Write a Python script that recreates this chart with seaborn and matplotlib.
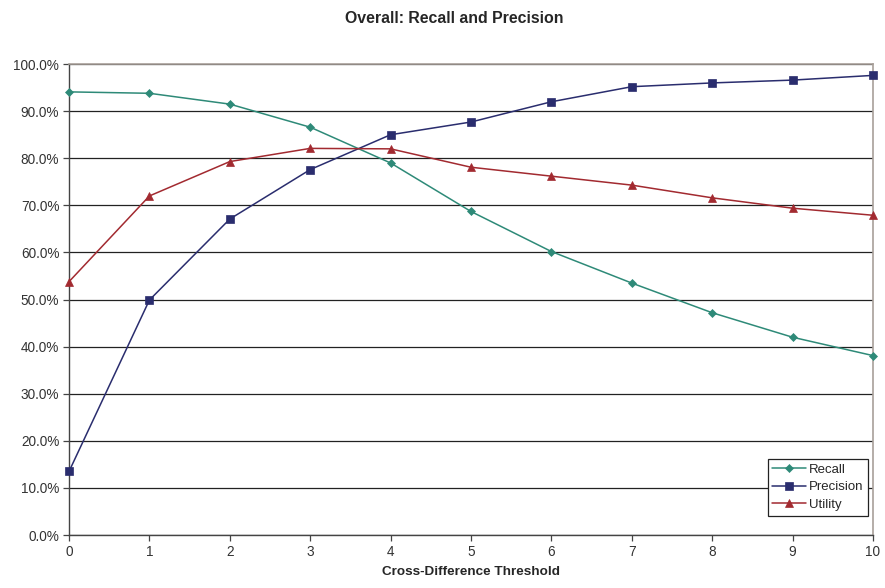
import matplotlib
matplotlib.use("Agg")
import matplotlib.pyplot as plt
from matplotlib.ticker import FuncFormatter, MultipleLocator
import seaborn as sns
import pandas as pd

thresholds = [0, 1, 2, 3, 4, 5, 6, 7, 8, 9, 10]
recall = [94.1, 93.8, 91.5, 86.6, 79.0, 68.7, 60.2, 53.5, 47.2, 42.0, 38.1]
precision = [13.5, 49.9, 67.1, 77.6, 85.0, 87.7, 92.0, 95.2, 96.0, 96.6, 97.6]
utility = [53.8, 72.0, 79.3, 82.1, 82.0, 78.1, 76.2, 74.3, 71.6, 69.4, 67.9]

series_names = ["Recall", "Precision", "Utility"]
colors = {"Recall": "#2E8A78", "Precision": "#2A2D6E", "Utility": "#A22A30"}
markers = {"Recall": "D", "Precision": "s", "Utility": "^"}
marker_sizes = {"Recall": 4.2, "Precision": 6.0, "Utility": 6.0}

df = pd.DataFrame({
    "threshold": thresholds * 3,
    "value": recall + precision + utility,
    "series": [s for s in series_names for _ in thresholds],
})

sns.set_style("white")
plt.rcParams["font.family"] = ["Liberation Sans", "DejaVu Sans"]

fig = plt.figure(figsize=(8.85, 5.88), dpi=100)
ax = fig.add_axes([0.078, 0.0901, 0.9084, 0.8009])

sns.lineplot(
    data=df, x="threshold", y="value", hue="series", style="series",
    hue_order=series_names, style_order=series_names,
    palette=colors, markers=markers, dashes=False,
    linewidth=1.1, markeredgewidth=0.5, ax=ax,
)
for line, name in zip(ax.lines, series_names):
    line.set_markeredgecolor(line.get_color())
    line.set_markersize(marker_sizes[name])
    line.set_clip_on(False)
    line.set_zorder(3)

ax.set_xlim(0, 10)
ax.set_ylim(0, 100)
ax.xaxis.set_major_locator(MultipleLocator(1))
ax.yaxis.set_major_locator(MultipleLocator(10))
ax.yaxis.set_major_formatter(FuncFormatter(lambda v, _: f"{v:.1f}%"))
ax.grid(axis="y", color="#222222", linewidth=0.9)
ax.grid(axis="x", visible=False)
ax.set_axisbelow(True)

for side in ("left", "bottom"):
    ax.spines[side].set_color("#444444")
    ax.spines[side].set_linewidth(1.0)
for side in ("top", "right"):
    ax.spines[side].set_color("#A8A09A")
    ax.spines[side].set_linewidth(1.2)

ax.tick_params(axis="both", which="major", direction="out", length=4,
               width=0.9, color="#444444", labelsize=9.8, labelcolor="#333333",
               left=True, bottom=True, pad=3)

ax.set_xlabel("Cross-Difference Threshold", fontsize=9.7, fontweight="bold", labelpad=5)
ax.set_ylabel("")
fig.suptitle("Overall: Recall and Precision", x=0.513, fontsize=11.4,
             fontweight="bold", y=0.981)

leg = ax.legend(loc="lower right", bbox_to_anchor=(0.999, 0.033), fontsize=9.5,
                frameon=True, fancybox=False, borderpad=0.35, handlelength=2.6,
                labelspacing=0.4, handletextpad=0.2, borderaxespad=0.3)
leg.get_frame().set_edgecolor("#222222")
leg.get_frame().set_linewidth(0.9)
leg.get_frame().set_alpha(1)
leg.set_title(None)
for h, name in zip(leg.legend_handles, series_names):
    h.set_markersize(marker_sizes[name])
    h.set_markeredgecolor(colors[name])

fig.savefig("out.png", dpi=100)
